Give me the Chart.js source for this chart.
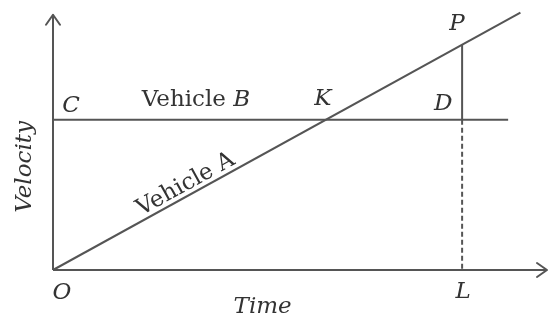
<!DOCTYPE html>
<html>
<head>
<meta charset="utf-8">
<script src="https://cdn.jsdelivr.net/npm/chart.js@4"></script>
<style>
  html, body { margin: 0; padding: 0; background: #fff; }
  #wrap { width: 557px; height: 320px; }
</style>
</head>
<body>
<div id="wrap"><canvas id="graf"></canvas></div>
<script>
// Datos del diagrama velocidad-tiempo
const tiempoL = 8;          // punto L sobre el eje de tiempo
const velB = 4;             // velocidad constante del vehículo B (C ... D)
const velP = 6;             // velocidad del vehículo A en L (punto P)
const finA = 9.14;          // tiempo donde termina la recta del vehículo A
const finB = 8.9;           // tiempo donde termina la recta del vehículo B
const ejeX = [0, 9.66];     // extremos del eje de tiempo
const ejeY = [0, 6.8];      // extremos del eje de velocidad

const pendiente = velP / tiempoL;
const tiempoK = velB / pendiente;

const gris = '#555';
const fuente = '"DejaVu Serif", serif';

const lineaA = [{ x: 0, y: 0 }, { x: finA, y: finA * pendiente }];
const lineaB = [{ x: 0, y: velB }, { x: finB, y: velB }];
const lineaPD = [{ x: tiempoL, y: velP }, { x: tiempoL, y: velB }];
const lineaDL = [{ x: tiempoL, y: velB }, { x: tiempoL, y: 0 }];
const lineaEjeX = [{ x: ejeX[0], y: 0 }, { x: ejeX[1], y: 0 }];
const lineaEjeY = [{ x: 0, y: ejeY[0] }, { x: 0, y: ejeY[1] }];

function serie(puntos, dash) {
    return {
        data: puntos,
        showLine: true,
        borderColor: gris,
        borderWidth: 2,
        borderDash: dash || [],
        pointRadius: 0,
        clip: false
    };
}

// Flechas y etiquetas
const extras = {
    id: 'extras',
    afterDatasetsDraw(chart) {
        const ctx = chart.ctx;
        const sx = chart.scales.x, sy = chart.scales.y;
        const px = v => sx.getPixelForValue(v);
        const py = v => sy.getPixelForValue(v);

        ctx.save();
        ctx.strokeStyle = gris;
        ctx.lineWidth = 2;
        ctx.lineCap = 'round';
        ctx.lineJoin = 'round';
        // punta eje Y
        let x0 = px(0), y0 = py(ejeY[1]);
        ctx.beginPath();
        ctx.moveTo(x0 - 7, y0 + 10);
        ctx.lineTo(x0, y0);
        ctx.lineTo(x0 + 7, y0 + 10);
        ctx.stroke();
        // punta eje X
        x0 = px(ejeX[1]); y0 = py(0);
        ctx.beginPath();
        ctx.moveTo(x0 - 10, y0 - 7);
        ctx.lineTo(x0, y0);
        ctx.lineTo(x0 - 10, y0 + 7);
        ctx.stroke();

        ctx.fillStyle = '#333';
        ctx.textAlign = 'center';
        ctx.textBaseline = 'middle';
        const it = 'italic 23px ' + fuente;
        const rec = '23px ' + fuente;
        function txt(t, x, y, f) { ctx.font = f; ctx.fillText(t, x, y); }

        txt('C', px(0) + 18, py(velB) - 14, it);
        txt('K', px(tiempoK) - 3, py(velB) - 21, it);
        txt('D', px(tiempoL) - 19, py(velB) - 16, it);
        txt('P', px(tiempoL) - 5, py(velP) - 21, it);
        txt('O', px(0) + 9, py(0) + 23, it);
        txt('L', px(tiempoL) + 1, py(0) + 22, it);
        txt('Time', px(4.1), py(0) + 37, it);

        // "Vehicle B": texto recto con la B en cursiva
        ctx.font = rec;
        const w1 = ctx.measureText('Vehicle ').width;
        ctx.font = it;
        const w2 = ctx.measureText('B').width;
        let xi = 196 - (w1 + w2) / 2;
        ctx.textAlign = 'left';
        txt('Vehicle ', xi, py(velB) - 20, rec);
        txt('B', xi + w1, py(velB) - 20, it);

        // "Velocity" vertical
        ctx.save();
        ctx.translate(px(0) - 28, py(velB) + 47);
        ctx.rotate(-Math.PI / 2);
        ctx.textAlign = 'center';
        txt('Velocity', 0, 0, it);
        ctx.restore();

        // "Vehicle A" sobre la recta
        const ang = Math.atan2(py(pendiente * 10) - py(0), px(10) - px(0));
        ctx.save();
        ctx.translate(px(2.7), py(2.7 * pendiente));
        ctx.rotate(ang);
        ctx.textAlign = 'center';
        ctx.textBaseline = 'alphabetic';
        txt('Vehicle A', 0, -5, rec);
        ctx.restore();

        ctx.restore();
    }
};

new Chart(document.getElementById('graf'), {
    type: 'scatter',
    data: {
        datasets: [
            serie(lineaEjeX),
            serie(lineaEjeY),
            serie(lineaA),
            serie(lineaB),
            serie(lineaPD),
            serie(lineaDL, [5, 3])
        ]
    },
    options: {
        responsive: true,
        maintainAspectRatio: false,
        animation: false,
        layout: { padding: { left: 53, right: 10, top: 11, bottom: 50 } },
        scales: {
            x: { type: 'linear', min: 0, max: 9.66, display: false },
            y: { type: 'linear', min: 0, max: 6.9, display: false }
        },
        plugins: {
            legend: { display: false },
            tooltip: { enabled: false }
        }
    },
    plugins: [extras]
});
</script>
</body>
</html>
